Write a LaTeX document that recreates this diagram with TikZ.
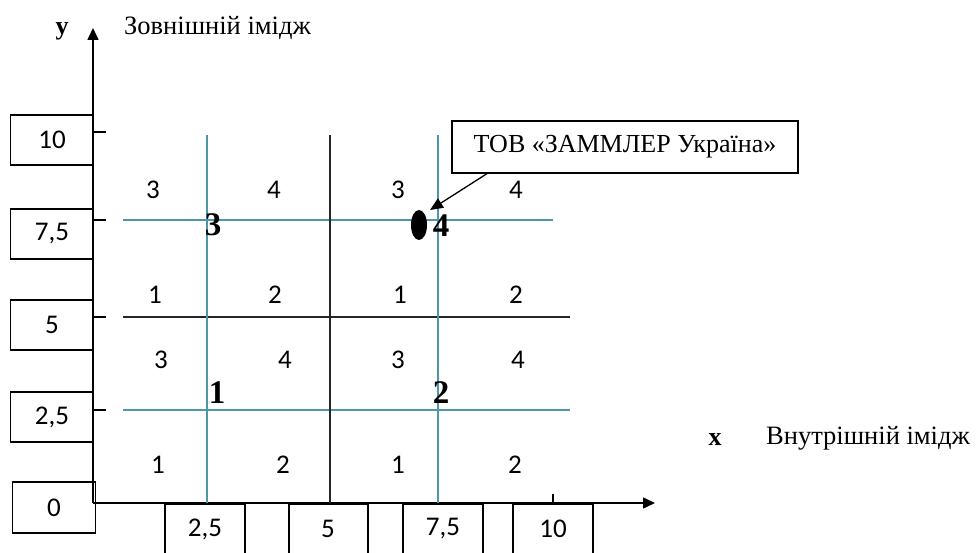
\documentclass[tikz,border=0pt]{standalone}
\usepackage{fontspec}
\setmainfont{Liberation Serif}
\newfontfamily\calib{Carlito}
\usetikzlibrary{arrows.meta,shapes.geometric}
\definecolor{gridteal}{RGB}{80,150,170}
\tikzset{
  ax/.style={line width=1.6pt,-{Triangle[length=12pt,width=11pt]}},
  tick/.style={line width=1.4pt},
  tealline/.style={gridteal,line width=1.6pt},
  blackline/.style={black!85,line width=1.6pt},
  valbox/.style={draw,line width=1.6pt,minimum width=83pt,minimum height=50pt,inner sep=0pt,font=\calib\fontsize{27}{30}\selectfont},
  qnum/.style={font=\calib\fontsize{27}{30}\selectfont,inner sep=0pt},
  xval/.style={font=\calib\fontsize{27}{30}\selectfont,inner sep=0pt},
  bignum/.style={font=\bfseries\fontsize{33}{36}\selectfont,inner sep=0pt},
  lbl/.style={font=\fontsize{26.5}{30}\selectfont,inner sep=0pt,anchor=west},
}
\begin{document}
\begin{tikzpicture}[x=1pt,y=-1pt]
\useasboundingbox (0,0) rectangle (980,553);
% axes
\coordinate (O) at (93,503);
\coordinate (ytop) at (93,28);
\coordinate (xend) at (655,503);
\draw[ax] (O) -- (ytop);
\draw[ax] (O) -- (xend);
% y ticks
\foreach \yy/\nm in {132/a,220/b,317/c,410/d}{
  \coordinate (yt\nm) at (93,\yy);
  \coordinate (yu\nm) at (106,\yy);
  \draw[tick] (yt\nm) -- (yu\nm);
}
\coordinate (xt1) at (553,503);
\coordinate (xt2) at (553,494);
\draw[tick] (xt1) -- (xt2);
% y value boxes
\node[valbox] (b10) at (52,140) {10};
\node[valbox] (b75) at (52,234) {7,5};
\node[valbox] (b5) at (52,325) {5};
\node[valbox] (b25) at (52,417) {2,5};
\node[valbox,minimum height=51pt] (b0) at (54,507.5) {0};
% x value boxes
\node[valbox,minimum width=80pt,minimum height=60pt,anchor=north] (x25) at (205,503) {};
\node[valbox,minimum width=79pt,minimum height=60pt,anchor=north] (x5) at (328.5,503) {};
\node[valbox,minimum width=80pt,minimum height=60pt,anchor=north] (x75) at (443,503) {};
\node[valbox,minimum width=80pt,minimum height=60pt,anchor=north] (x10) at (553,503) {};
\node[xval] (t25) at (205,529) {2,5};
\node[xval] (t5) at (328,529) {5};
\node[xval] (t75) at (443,529) {7,5};
\node[xval] (t10) at (553,529) {10};
% grid lines
\coordinate (h1a) at (123,220); \coordinate (h1b) at (553,220);
\coordinate (h2a) at (123,317); \coordinate (h2b) at (570,317);
\coordinate (h3a) at (123,410); \coordinate (h3b) at (570,410);
\coordinate (v1a) at (207,135); \coordinate (v1b) at (207,503);
\coordinate (v2a) at (330,135); \coordinate (v2b) at (330,503);
\coordinate (v3a) at (438,135); \coordinate (v3b) at (438,503);
\draw[tealline] (h1a) -- (h1b);
\draw[blackline] (h2a) -- (h2b);
\draw[tealline] (h3a) -- (h3b);
\draw[tealline] (v1a) -- (v1b);
\draw[blackline] (v2a) -- (v2b);
\draw[tealline] (v3a) -- (v3b);
% quadrant numbers
\node[qnum] (q11) at (153,190) {3}; \node[qnum] (q12) at (274,190) {4};
\node[qnum] (q13) at (398,190) {3}; \node[qnum] (q14) at (516,190) {4};
\node[qnum] (q21) at (155,295) {1}; \node[qnum] (q22) at (275,295) {2};
\node[qnum] (q23) at (400,295) {1}; \node[qnum] (q24) at (516,295) {2};
\node[qnum] (q31) at (161,360) {3}; \node[qnum] (q32) at (285,360) {4};
\node[qnum] (q33) at (398,360) {3}; \node[qnum] (q34) at (518,360) {4};
\node[qnum] (q41) at (158,465) {1}; \node[qnum] (q42) at (283,465) {2};
\node[qnum] (q43) at (398,465) {1}; \node[qnum] (q44) at (515,465) {2};
% big numbers
\node[bignum] (B3) at (213,225) {3};
\node[bignum] (B4) at (441,226) {4};
\node[bignum] (B1) at (217,393) {1};
\node[bignum] (B2) at (441,393) {2};
% company point
\node[fill=black,ellipse,minimum width=16pt,minimum height=30pt,inner sep=0pt] (pt) at (419,225) {};
\node[draw,line width=1.6pt,minimum width=346pt,minimum height=52pt,inner sep=0pt,font=\fontsize{26}{30}\selectfont] (callout) at (625,147) {ТОВ «ЗАММЛЕР Україна»};
\coordinate (cstart) at (488,173);
\coordinate (cend) at (430,210);
\draw[line width=1.3pt,-{Triangle[length=13pt,width=11pt]}] (cstart) -- (cend);
% axis labels
\node[font=\bfseries\fontsize{26}{30}\selectfont,inner sep=0pt] (ylab) at (62,31) {у};
\node[lbl] (ytext) at (124,28) {Зовнішній імідж};
\node[font=\bfseries\fontsize{26}{30}\selectfont,inner sep=0pt] (xlab) at (715,440) {х};
\node[lbl] (xtext) at (766,438) {Внутрішній імідж};
\end{tikzpicture}
\end{document}
